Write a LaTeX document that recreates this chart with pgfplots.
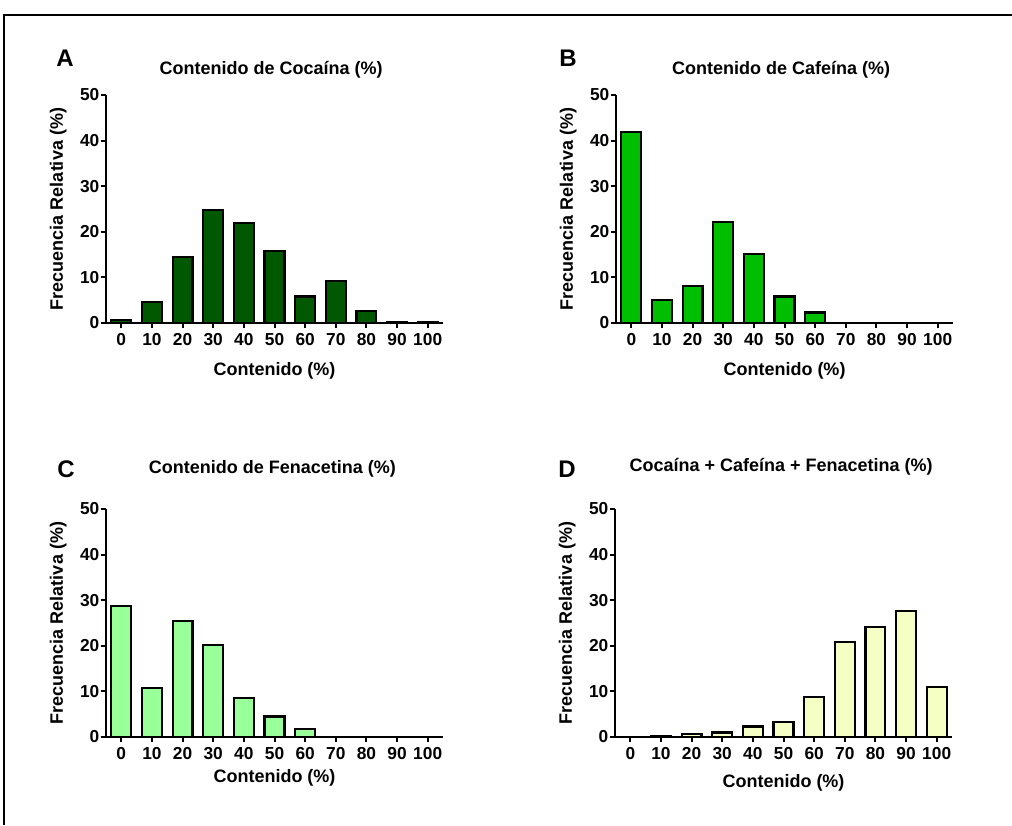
\documentclass[border=0pt]{standalone}
\usepackage{fontspec}
\setmainfont{Liberation Sans}
\usepackage{pgfplots}
\pgfplotsset{compat=1.18}
\definecolor{cA}{RGB}{0,88,0}
\definecolor{cB}{RGB}{0,190,0}
\definecolor{cC}{RGB}{153,255,153}
\definecolor{cD}{RGB}{245,255,195}
\pgfplotsset{panel/.style={
  scale only axis, width=252.75pt, height=171pt,
  xmin=-0.5, xmax=10.5, ymin=0, ymax=50,
  axis lines*=left, axis line style={line width=1.5pt},
  xtick={0,1,2,3,4,5,6,7,8,9,10},
  xticklabels={0,10,20,30,40,50,60,70,80,90,100},
  ytick={0,10,20,30,40,50},
  tick align=outside, major tick length=4pt,
  tick style={line width=1.5pt, black},
  /pgf/number format/assume math mode=true,
  xticklabel style={font=\fontsize{13}{15}\selectfont\bfseries, yshift=-0.5pt},
  yticklabel style={font=\fontsize{13}{15}\selectfont\bfseries, xshift=2.5pt},
  ylabel={Frecuencia Relativa (\%)},
  ylabel style={font=\fontsize{13.5}{16}\selectfont\bfseries, at={(axis description cs:-0.142,0.5)}, anchor=center},
  xlabel={Contenido (\%)},
  xlabel style={font=\fontsize{13.5}{16}\selectfont\bfseries, at={(axis description cs:0.5,-0.21)}, anchor=center},
  title style={font=\fontsize{13.5}{16}\selectfont\bfseries, at={(axis description cs:0.49,1.075)}, anchor=center},
  ybar, bar width=0.65, bar shift=0pt,
  clip=false,
}}
\begin{document}
\begin{tikzpicture}[x=0.75pt,y=0.75pt]
\useasboundingbox (0,0) rectangle (1012,825);
\draw[line width=1.5pt] (4,0) -- (4,810) -- (1012,810);
% Panel A
\begin{axis}[panel, at={(79.5pt,376.5pt)}, anchor=south west, title={Contenido de Cocaína (\%)}]
\addplot[fill=cA, draw=black, line width=1.6pt] coordinates {
(0,0.6) (1,4.7) (2,14.4) (3,24.8) (4,21.9) (5,15.7) (6,5.8) (7,9.2) (8,2.7) (9,0.3) (10,0.3)};
\end{axis}
% Panel B
\begin{axis}[panel, at={(462pt,376.5pt)}, anchor=south west, title={Contenido de Cafeína (\%)}]
\addplot[fill=cB, draw=black, line width=1.6pt] coordinates {
(0,41.8) (1,5.0) (2,8.2) (3,22.2) (4,15.1) (5,5.8) (6,2.3)};
\end{axis}
% Panel C
\begin{axis}[panel, at={(79.5pt,66pt)}, anchor=south west, title={Contenido de Fenacetina (\%)},
  title style={at={(axis description cs:0.494,1.14)}},
  xlabel style={at={(axis description cs:0.5,-0.18)}}]
\addplot[fill=cC, draw=black, line width=1.6pt] coordinates {
(0,28.8) (1,10.7) (2,25.4) (3,20.2) (4,8.5) (5,4.5) (6,1.7)};
\end{axis}
% Panel D
\begin{axis}[panel, at={(461.25pt,66pt)}, anchor=south west, title={Cocaína + Cafeína + Fenacetina (\%)},
  title style={at={(axis description cs:0.493,1.148)}},
  xlabel style={at={(axis description cs:0.5,-0.20)}}]
\addplot[fill=cD, draw=black, line width=1.6pt] coordinates {
(1,0.3) (2,0.6) (3,1.0) (4,2.3) (5,3.3) (6,8.8) (7,20.9) (8,24.1) (9,27.7) (10,11.0)};
\end{axis}
\node[font=\fontsize{18}{20}\selectfont\bfseries] at (65,767) {A};
\node[font=\fontsize{18}{20}\selectfont\bfseries] at (568,767) {B};
\node[font=\fontsize{18}{20}\selectfont\bfseries] at (66,356) {C};
\node[font=\fontsize{18}{20}\selectfont\bfseries] at (567,356) {D};
\end{tikzpicture}
\end{document}
